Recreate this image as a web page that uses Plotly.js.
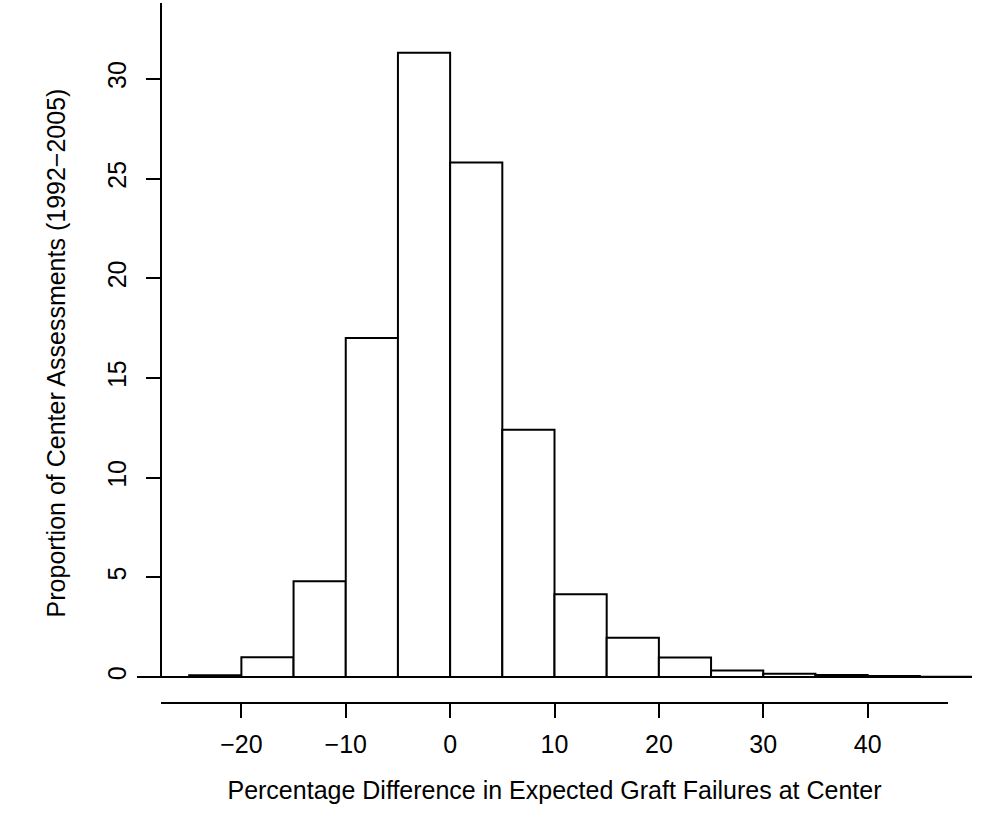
<!DOCTYPE html>
<html>
<head>
<meta charset="utf-8">
<script src="https://cdn.plot.ly/plotly-3.0.1.min.js"></script>
<style>html,body{margin:0;padding:0;background:#fff;}</style>
</head>
<body>
<div id="chart" style="width:1001px;height:818px;"></div>
<script>
// Histogram bins (bin centers, width 5) and proportions (%)
const binCenters = [-22.5, -17.5, -12.5, -7.5, -2.5, 2.5, 7.5, 12.5, 17.5, 22.5, 27.5, 32.5, 37.5, 42.5, 47.5];
const proportions = [0.09, 1.0, 4.8, 17.0, 31.3, 25.8, 12.4, 4.15, 1.97, 0.98, 0.33, 0.17, 0.1, 0.06, 0.02];
const binWidth = 5;
const xTickVals = [-20, -10, 0, 10, 20, 30, 40];
const xTickText = ['\u221220', '\u221210', '0', '10', '20', '30', '40'];
const yTickVals = [0, 5, 10, 15, 20, 25, 30];
const yTickText = ['0', '5', '10', '15', '20', '25', '30'];

const xRange = [-30, 50];
const yRange = [-1.3, 33.8];
const xAxisLineSpan = [-27.7, 47.7];
const yAxisPos = 24 / 835;

const font = {family: '"Liberation Sans", Arial, Helvetica, sans-serif', color: '#000', size: 25};

const trace = {
  type: 'bar',
  x: binCenters,
  y: proportions,
  width: binWidth,
  marker: {color: '#fff', line: {color: '#000', width: 2}},
  hoverinfo: 'x+y'
};

const layout = {
  width: 1001, height: 818,
  margin: {l: 137, r: 29, t: 3, b: 115},
  paper_bgcolor: '#fff', plot_bgcolor: '#fff',
  font: font,
  showlegend: false,
  bargap: 0,
  xaxis: {
    range: xRange, showgrid: false, zeroline: false, showline: false,
    tickmode: 'array', tickvals: xTickVals, ticktext: xTickText,
    ticks: 'outside', ticklen: 14, tickwidth: 2, tickcolor: '#000',
    tickfont: font, ticklabelstandoff: 5,
    title: {text: 'Percentage Difference in Expected Graft Failures at Center', font: font, standoff: 24},
    automargin: false
  },
  yaxis: {
    range: yRange, showgrid: false, zeroline: false, showline: false,
    anchor: 'free', position: yAxisPos,
    tickmode: 'array', tickvals: yTickVals, ticktext: yTickText,
    ticks: 'outside', ticklen: 15, tickwidth: 2, tickcolor: '#000',
    tickfont: font, tickangle: -90, ticklabelstandoff: 10,
    title: {text: 'Proportion of Center Assessments (1992\u22122005)', font: font, standoff: 29},
    automargin: false
  },
  shapes: [
    {type: 'line', xref: 'paper', yref: 'y', x0: 0, x1: 1, y0: 0, y1: 0, line: {color: '#000', width: 2}},
    {type: 'line', xref: 'x', yref: 'paper', x0: xAxisLineSpan[0], x1: xAxisLineSpan[1], y0: 0, y1: 0, line: {color: '#000', width: 2}},
    {type: 'line', xref: 'paper', yref: 'y', x0: yAxisPos, x1: yAxisPos, y0: 0, y1: yRange[1], line: {color: '#000', width: 2}}
  ]
};

Plotly.newPlot('chart', [trace], layout, {displayModeBar: false, staticPlot: true});
</script>
</body>
</html>
